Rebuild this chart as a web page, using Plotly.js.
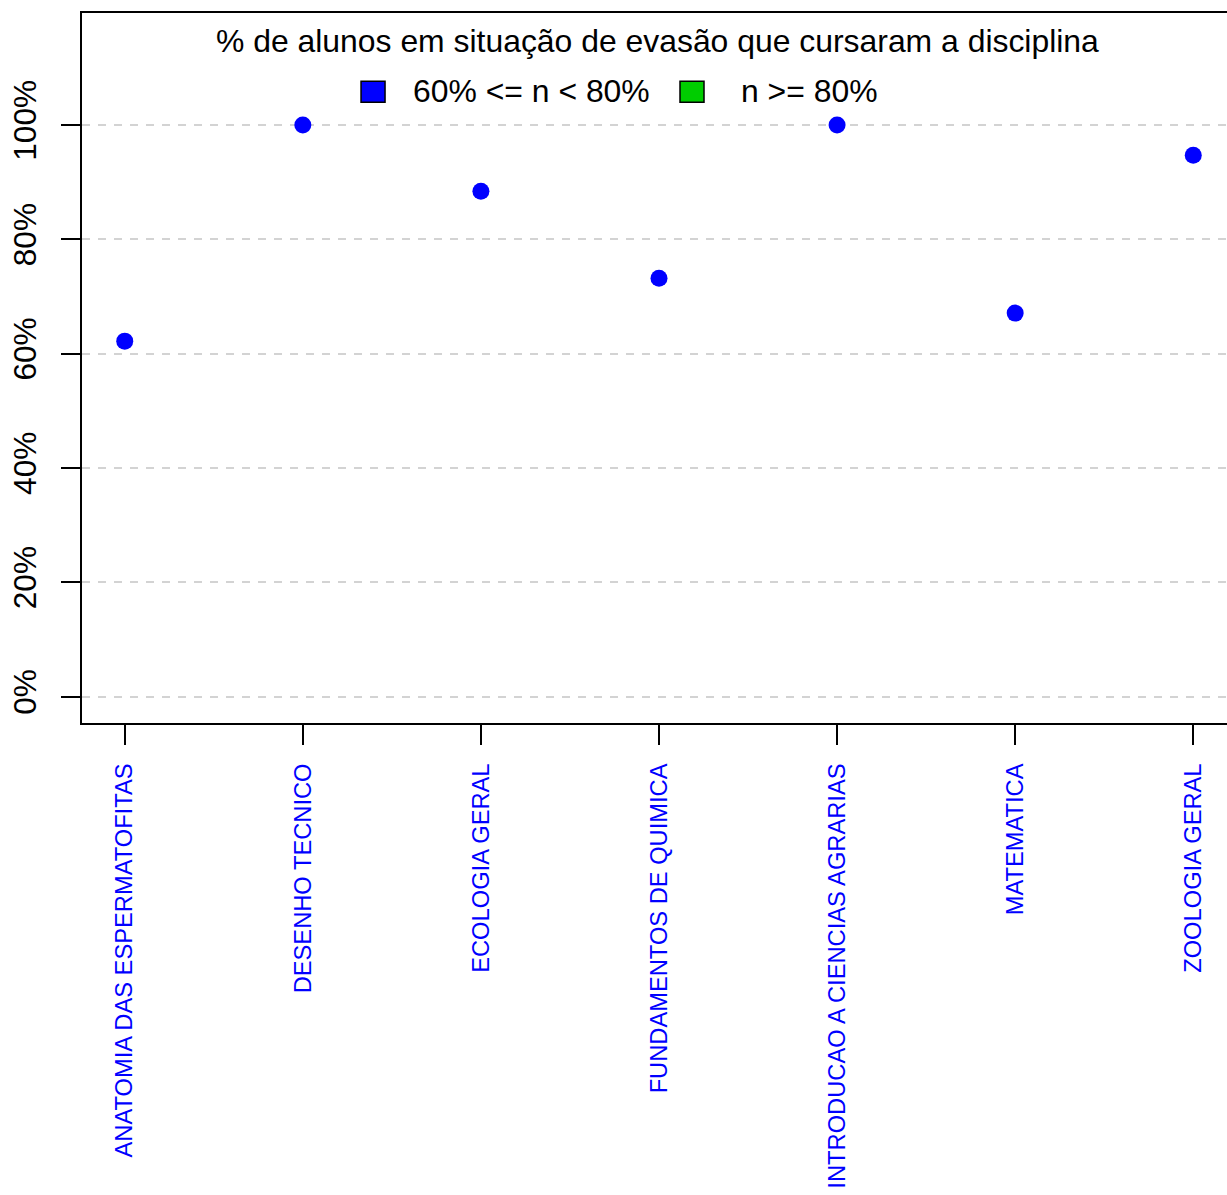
<!DOCTYPE html>
<html>
<head>
<meta charset="utf-8">
<script src="https://cdn.plot.ly/plotly-3.0.1.min.js"></script>
<style>
html, body { margin: 0; padding: 0; overflow: hidden; background: #fff; }
#chart { width: 1236px; height: 1195px; }
</style>
</head>
<body>
<div id="chart"></div>
<script>
// Data
const disciplinas = [
  "ANATOMIA DAS ESPERMATOFITAS",
  "DESENHO TECNICO",
  "ECOLOGIA GERAL",
  "FUNDAMENTOS DE QUIMICA",
  "INTRODUCAO A CIENCIAS AGRARIAS",
  "MATEMATICA",
  "ZOOLOGIA GERAL"
];
const percentuais = [62.2, 100, 88.4, 73.2, 100, 67.1, 94.7];
const yTickVals = [0, 20, 40, 60, 80, 100];
const yTickText = ["0%", "20%", "40%", "60%", "80%", "100%"];
const tituloLegenda = "% de alunos em situação de evasão que cursaram a disciplina";
const rotulosLegenda = ["60% <= n < 80%", "n >= 80%"];
const coresLegenda = ["#0000ff", "#00cd00"];

const FONT = "Liberation Sans, Arial, Helvetica, sans-serif";

const trace = {
  type: "scatter",
  mode: "markers",
  x: disciplinas,
  y: percentuais,
  marker: { color: "#0000ff", size: 17, line: { width: 0 } },
  showlegend: false,
  hoverinfo: "x+y"
};

const W = 1236, H = 1195;
const mL = 82, mT = 13, mB = 472, mR = 0;

const annotations = [
  {
    xref: "paper", yref: "paper", x: 0.4985, y: 0.960,
    xanchor: "center", yanchor: "middle", showarrow: false,
    text: tituloLegenda, font: { family: FONT, size: 31.9, color: "#000" }
  },
  {
    xref: "paper", yref: "paper", x: 0.2851, y: 0.8898,
    xanchor: "left", yanchor: "middle", showarrow: false,
    text: rotulosLegenda[0], font: { family: FONT, size: 31.9, color: "#000" }
  },
  {
    xref: "paper", yref: "paper", x: 0.5693, y: 0.8898,
    xanchor: "left", yanchor: "middle", showarrow: false,
    text: rotulosLegenda[1], font: { family: FONT, size: 31.9, color: "#000" }
  }
];

const shapes = [
  { type: "rect", xref: "paper", yref: "paper", x0: 0.2418, x1: 0.2626, y0: 0.8743, y1: 0.9038,
    fillcolor: coresLegenda[0], line: { color: "#000", width: 1.5 } },
  { type: "rect", xref: "paper", yref: "paper", x0: 0.5182, x1: 0.5390, y0: 0.8743, y1: 0.9038,
    fillcolor: coresLegenda[1], line: { color: "#000", width: 1.5 } }
];

const layout = {
  width: W, height: H,
  margin: { l: mL, r: mR, t: mT, b: mB, pad: 0 },
  paper_bgcolor: "#fff",
  plot_bgcolor: "#fff",
  font: { family: FONT, color: "#000" },
  showlegend: false,
  xaxis: {
    type: "category",
    range: [-0.24, 6.24],
    showgrid: false,
    zeroline: false,
    showline: true, mirror: true, linecolor: "#000", linewidth: 2,
    ticks: "outside", ticklen: 20, tickwidth: 2, tickcolor: "#000",
    tickangle: -90,
    tickfont: { family: FONT, size: 23.7, color: "#0000ff" },
    ticklabelstandoff: 9,
    automargin: false
  },
  yaxis: {
    range: [-4.6, 119.6],
    tickvals: yTickVals,
    ticktext: yTickText,
    showgrid: true, gridcolor: "#d3d3d3", gridwidth: 2, griddash: "8px,8px",
    zeroline: false,
    showline: true, mirror: true, linecolor: "#000", linewidth: 2,
    ticks: "outside", ticklen: 19, tickwidth: 2, tickcolor: "#000",
    tickangle: -90,
    tickfont: { family: FONT, size: 31.6, color: "#000" },
    ticklabelstandoff: 12,
    automargin: false
  },
  annotations: annotations,
  shapes: shapes
};

Plotly.newPlot("chart", [trace], layout, { displayModeBar: false, staticPlot: true });
</script>
</body>
</html>
